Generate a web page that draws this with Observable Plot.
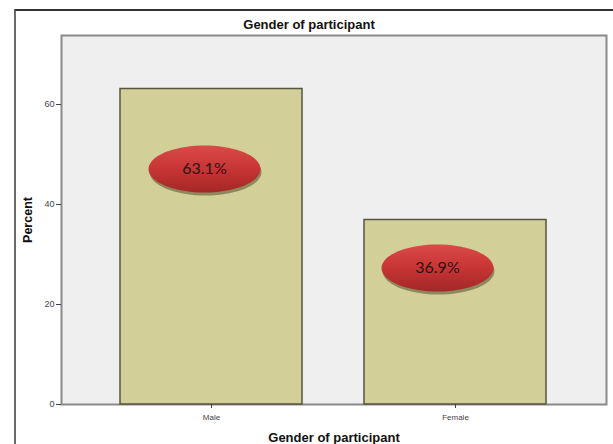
<!DOCTYPE html>
<html>
<head>
<meta charset="utf-8">
<script src="https://cdn.jsdelivr.net/npm/d3@7"></script>
<script src="https://cdn.jsdelivr.net/npm/@observablehq/plot@0.6"></script>
<style>
  html, body { margin: 0; padding: 0; background: #fff; }
  #wrap { position: relative; width: 613px; height: 444px; overflow: hidden; }
  #frame { position: absolute; left: 14px; top: 9px; width: 640px; height: 480px;
           border-left: 2px solid #6a6a6a; border-top: 2px solid #333; box-sizing: border-box; }
  #chart { position: absolute; left: 0; top: 0; }
</style>
</head>
<body>
<div id="wrap"><div id="frame"></div><div id="chart"></div></div>
<script>
const categories = ["Male", "Female"];
const percents = [63.1, 36.9];
const labels = ["63.1%", "36.9%"];
const yTicks = [0, 20, 40, 60];
const title = "Gender of participant";
const xTitle = "Gender of participant";
const yTitle = "Percent";

const data = categories.map((c, i) => ({category: c, percent: percents[i], label: labels[i]}));

// ellipse symbol
const ellipse = {
  draw(context, size) {
    const r = Math.sqrt(size / Math.PI);
    const rx = r, ry = r * 0.42;
    const n = 72;
    for (let k = 0; k <= n; ++k) {
      const a = (k / n) * 2 * Math.PI;
      const px = rx * Math.cos(a), py = ry * Math.sin(a);
      if (k === 0) context.moveTo(px, py); else context.lineTo(px, py);
    }
    context.closePath();
  }
};

const defs = () => {
  const svgNS = "http://www.w3.org/2000/svg";
  const d = document.createElementNS(svgNS, "defs");
  d.innerHTML = `<linearGradient id="redgrad" x1="0" y1="0" x2="0" y2="1">
      <stop offset="0" stop-color="#d94a48"/>
      <stop offset="0.5" stop-color="#c73534"/>
      <stop offset="1" stop-color="#a32727"/>
    </linearGradient>`;
  return d;
};

// per-label placement offsets (pixels)
const labelOffsets = [{dx: -7, dy: 80}, {dx: -18, dy: 48}];

const labelMarks = data.flatMap((d, i) => [
  Plot.dot([d], {x: "category", y: "percent", r: 56, symbol: ellipse,
    fill: "#7f7c52", fillOpacity: 0.85, dx: labelOffsets[i].dx + 1, dy: labelOffsets[i].dy + 3}),
  Plot.dot([d], {x: "category", y: "percent", r: 56, symbol: ellipse,
    fill: "url(#redgrad)", dx: labelOffsets[i].dx, dy: labelOffsets[i].dy}),
  Plot.text([d], {x: "category", y: "percent", text: "label", fontSize: 16,
    fontFamily: "Lato, 'Open Sans', sans-serif", fill: "#2a1414",
    dx: labelOffsets[i].dx, dy: labelOffsets[i].dy})
]);

const chart = Plot.plot({
  width: 613,
  height: 444,
  marginLeft: 61,
  marginRight: 7,
  marginTop: 35,
  marginBottom: 40,
  style: {fontFamily: "'Liberation Sans', Arial, sans-serif", background: "transparent", color: "#333"},
  x: {domain: categories, paddingInner: 0.253, paddingOuter: 0.243},
  y: {domain: [0, 73.8]},
  marks: [
    defs,
    Plot.frame({fill: "#efefef", stroke: "#8a8a8a", strokeWidth: 2}),
    Plot.barY(data, {x: "category", y: "percent", fill: "#d3cf98", stroke: "#55553f", strokeWidth: 1.5}),
    Plot.axisY({ticks: yTicks, tickSize: 5, fontSize: 9, label: null, stroke: "#444", fill: "#444", tickPadding: 2}),
    Plot.axisY({ticks: [], label: yTitle, labelAnchor: "center", labelArrow: "none", labelOffset: 38,
      fontSize: 12.5, fontWeight: "bold", fill: "#111"}),
    Plot.axisX({tickSize: 4, fontSize: 8, label: null, stroke: "#444", fill: "#444", tickPadding: 6}),
    Plot.axisX({ticks: [], label: xTitle, labelAnchor: "center", labelArrow: "none", labelOffset: 37,
      fontSize: 13, fontWeight: "bold", fill: "#111"}),
    Plot.text([title], {frameAnchor: "top", lineAnchor: "middle", dy: -11, dx: -25, fontSize: 13, fontWeight: "bold", fill: "#111"}),
    ...labelMarks
  ]
});
document.getElementById("chart").append(chart);
</script>
</body>
</html>
